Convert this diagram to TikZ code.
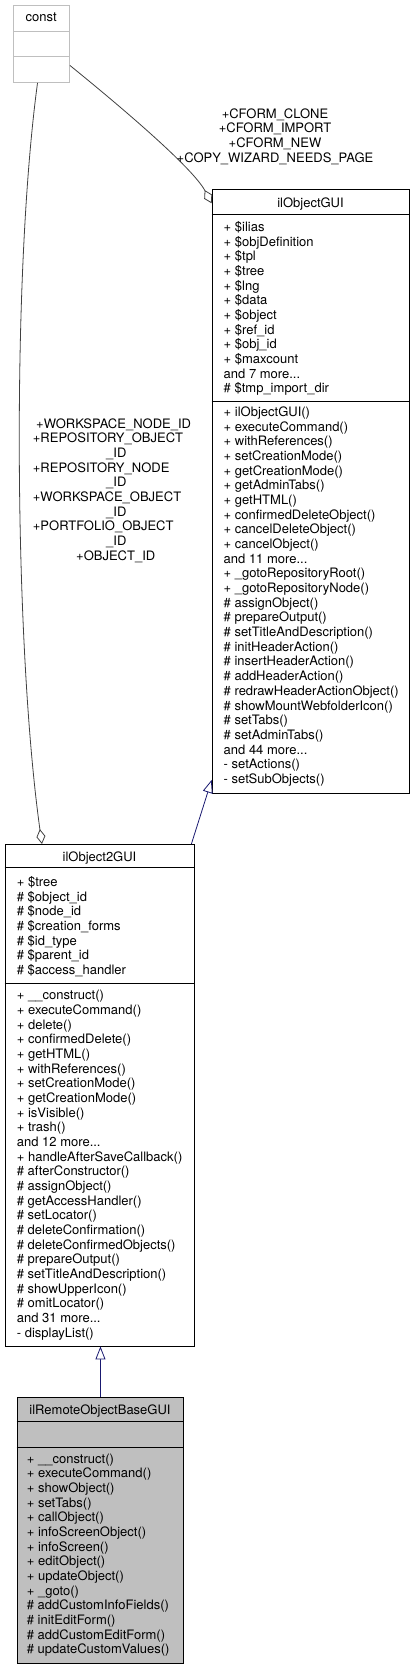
\documentclass[tikz,border=0pt]{standalone}
\usepackage{fontspec}
\setmainfont{TeX Gyre Heros}
\usetikzlibrary{arrows.meta}
\definecolor{grey75}{HTML}{BFBFBF}
\definecolor{grey25}{HTML}{404040}
\definecolor{midblue}{HTML}{191970}
\newcommand\fst{\rule{0pt}{11pt}}
\tikzset{
  cls/.style={draw=black, line width=0.9pt, rectangle, inner sep=0pt, anchor=north west},
  ttl/.style={anchor=center, inner sep=0pt, text height=9.4pt, text depth=0pt, font=\fontsize{13}{14.67}\selectfont},
  txt/.style={anchor=north west, inner sep=0pt, align=left, font=\fontsize{13}{14.67}\selectfont},
  lbl/.style={inner sep=0pt, font=\fontsize{13}{14.67}\selectfont},
  divider/.style={line width=0.9pt},
  aggr/.style={draw=grey25, line width=0.8pt, -{Diamond[length=15pt,width=9pt,fill=white]}},
  inh/.style={draw=midblue, line width=0.8pt, -{Triangle[length=13pt,width=10pt,fill=white]}}
}
\begin{document}
\begin{tikzpicture}[x=1pt,y=-1pt]
\useasboundingbox (0,0) rectangle (415,1669);

% const
\node[cls, draw=grey75, minimum width=55.7pt, minimum height=76.7pt] (cst) at (13.3,5.3) {};
\draw[divider, grey75] (cst.west |- 0,31.7) -- (cst.east |- 0,31.7);
\draw[divider, grey75] (cst.west |- 0,56.7) -- (cst.east |- 0,56.7);
\node[ttl] (cstT) at (41.15,17.3) {const};

% ilObjectGUI
\node[cls, minimum width=197.6pt, minimum height=603.7pt] (objgui) at (211.7,189.3) {};
\draw[divider] (objgui.west |- 0,214.3) -- (objgui.east |- 0,214.3);
\draw[divider] (objgui.west |- 0,401.7) -- (objgui.east |- 0,401.7);
\node[ttl] (objguiT) at (310.5,202.7) {ilObjectGUI};
\node[txt] (objguiA) at (223.5,220.4) {\fst + \$ilias\\
+ \$objDefinition\\
+ \$tpl\\
+ \$tree\\
+ \$lng\\
+ \$data\\
+ \$object\\
+ \$ref\_id\\
+ \$obj\_id\\
+ \$maxcount\\
and 7 more...\\
\# \$tmp\_import\_dir};
\node[txt] (objguiM) at (223.5,405.4) {\fst + ilObjectGUI()\\
+ executeCommand()\\
+ withReferences()\\
+ setCreationMode()\\
+ getCreationMode()\\
+ getAdminTabs()\\
+ getHTML()\\
+ confirmedDeleteObject()\\
+ cancelDeleteObject()\\
+ cancelObject()\\
and 11 more...\\
+ \_gotoRepositoryRoot()\\
+ \_gotoRepositoryNode()\\
\# assignObject()\\
\# prepareOutput()\\
\# setTitleAndDescription()\\
\# initHeaderAction()\\
\# insertHeaderAction()\\
\# addHeaderAction()\\
\# redrawHeaderActionObject()\\
\# showMountWebfolderIcon()\\
\# setTabs()\\
\# setAdminTabs()\\
and 44 more...\\
- setActions()\\
- setSubObjects()};

% ilObject2GUI
\node[cls, minimum width=189.6pt, minimum height=501.5pt] (obj2gui) at (4.7,844) {};
\draw[divider] (obj2gui.west |- 0,867.5) -- (obj2gui.east |- 0,867.5);
\draw[divider] (obj2gui.west |- 0,983.8) -- (obj2gui.east |- 0,983.8);
\node[ttl] (obj2guiT) at (99.5,856.7) {ilObject2GUI};
\node[txt] (obj2guiA) at (16.7,875.4) {\fst + \$tree\\
\# \$object\_id\\
\# \$node\_id\\
\# \$creation\_forms\\
\# \$id\_type\\
\# \$parent\_id\\
\# \$access\_handler};
\node[txt] (obj2guiM) at (16.7,988.7) {\fst + \_\_construct()\\
+ executeCommand()\\
+ delete()\\
+ confirmedDelete()\\
+ getHTML()\\
+ withReferences()\\
+ setCreationMode()\\
+ getCreationMode()\\
+ isVisible()\\
+ trash()\\
and 12 more...\\
+ handleAfterSaveCallback()\\
\# afterConstructor()\\
\# assignObject()\\
\# getAccessHandler()\\
\# setLocator()\\
\# deleteConfirmation()\\
\# deleteConfirmedObjects()\\
\# prepareOutput()\\
\# setTitleAndDescription()\\
\# showUpperIcon()\\
\# omitLocator()\\
and 31 more...\\
- displayList()};

% ilRemoteObjectBaseGUI
\node[cls, fill=grey75, minimum width=166.6pt, minimum height=266pt] (remote) at (16.7,1396.7) {};
\draw[divider] (remote.west |- 0,1421.7) -- (remote.east |- 0,1421.7);
\draw[divider] (remote.west |- 0,1447.3) -- (remote.east |- 0,1447.3);
\node[ttl] (remoteT) at (100,1410) {ilRemoteObjectBaseGUI};
\node[txt] (remoteM) at (26.7,1452) {\fst + \_\_construct()\\
+ executeCommand()\\
+ showObject()\\
+ setTabs()\\
+ callObject()\\
+ infoScreenObject()\\
+ infoScreen()\\
+ editObject()\\
+ updateObject()\\
+ \_goto()\\
\# addCustomInfoFields()\\
\# initEditForm()\\
\# addCustomEditForm()\\
\# updateCustomValues()};

% connectors
\draw[aggr] (cst.-37.5) .. controls (131,115) and (193.7,169.5) .. (objgui.109.75);
\draw[aggr] (cst.-96.6) .. controls (11.2,278) and (14.5,648) .. (obj2gui.103.7);
\draw[inh] (obj2gui.70.3) -- (objgui.-109.2);
\draw[inh] (remote.north) -- (remote.north |- obj2gui.south);

% edge labels
\node[lbl, align=center, anchor=north] (lblA) at (275,107) {\fst +CFORM\_CLONE\\
+CFORM\_IMPORT\\
+CFORM\_NEW\\
+COPY\_WIZARD\_NEEDS\_PAGE};
\node[lbl, align=left, anchor=north west] (lblB) at (32.7,417) {\fst\hspace*{3.3pt}+WORKSPACE\_NODE\_ID\\
+REPOSITORY\_OBJECT\\
\hspace*{73.3pt}\_ID\\
+REPOSITORY\_NODE\\
\hspace*{73.3pt}\_ID\\
+WORKSPACE\_OBJECT\\
\hspace*{73.3pt}\_ID\\
+PORTFOLIO\_OBJECT\\
\hspace*{73.3pt}\_ID\\
\hspace*{43.3pt}+OBJECT\_ID};
\end{tikzpicture}
\end{document}
